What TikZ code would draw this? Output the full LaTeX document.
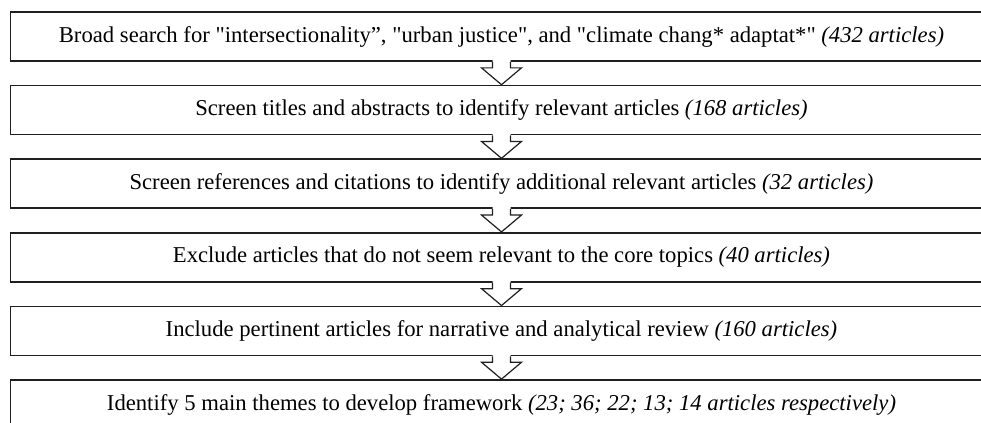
\documentclass[tikz,border=0pt]{standalone}
\usepackage{fontspec}
\setmainfont{Liberation Serif}[Ligatures=TeXOff]
\usetikzlibrary{positioning,calc}

\begin{document}
\begin{tikzpicture}[
    x=0.75pt, y=0.75pt,
    stage/.style={draw=black!88, line width=1.3pt, fill=white,
                  minimum width=736.5pt, minimum height=36.75pt, inner sep=0pt,
                  font=\fontsize{17}{19}\selectfont, align=center},
    arrowline/.style={draw=black!88, line width=0.9pt, line join=miter}
]

% Page frame (boxes run past the right and bottom edges)
\useasboundingbox (0,0) rectangle (981,423);
\clip (0,0) rectangle (981,423);

% Count in italics after each step
\newcommand{\tally}[1]{\textit{(#1)}}

% Hollow block arrow from the bottom of one box to the top of the next
\newcommand{\stagearrow}[2]{%
    % #1=upper box, #2=lower box
    \fill[white] ($(#1.south)+(-9,2)$) -- ($(#1.south)+(-9,-6)$)
        -- ($(#1.south)+(-20,-6)$) -- (#2.north) -- ($(#1.south)+(20,-6)$)
        -- ($(#1.south)+(9,-6)$) -- ($(#1.south)+(9,2)$) -- cycle;
    \draw[arrowline] ($(#1.south)+(-9,0)$) -- ($(#1.south)+(-9,-6)$)
        -- ($(#1.south)+(-20,-6)$) -- (#2.north) -- ($(#1.south)+(20,-6)$)
        -- ($(#1.south)+(9,-6)$) -- ($(#1.south)+(9,0)$);
}

% Steps of the review
\node[stage] (search) at (501.5, 386.5)
    {Broad search for "intersectionality”, "urban justice", and "climate chang* adaptat*" \tally{432 articles}};
\node[stage] (screen) at (501.5, 312.9)
    {Screen titles and abstracts to identify relevant articles \tally{168 articles}};
\node[stage] (refs) at (501.5, 239.3)
    {Screen references and citations to identify additional relevant articles \tally{32 articles}};
\node[stage] (exclude) at (501.5, 165.7)
    {Exclude articles that do not seem relevant to the core topics \tally{40 articles}};
\node[stage] (include) at (501.5, 92.1)
    {Include pertinent articles for narrative and analytical review \tally{160 articles}};
\node[stage] (themes) at (501.5, 18.5)
    {Identify 5 main themes to develop framework \tally{23; 36; 22; 13; 14 articles respectively}};

% Arrows between steps
\stagearrow{search}{screen}
\stagearrow{screen}{refs}
\stagearrow{refs}{exclude}
\stagearrow{exclude}{include}
\stagearrow{include}{themes}

\end{tikzpicture}
\end{document}
